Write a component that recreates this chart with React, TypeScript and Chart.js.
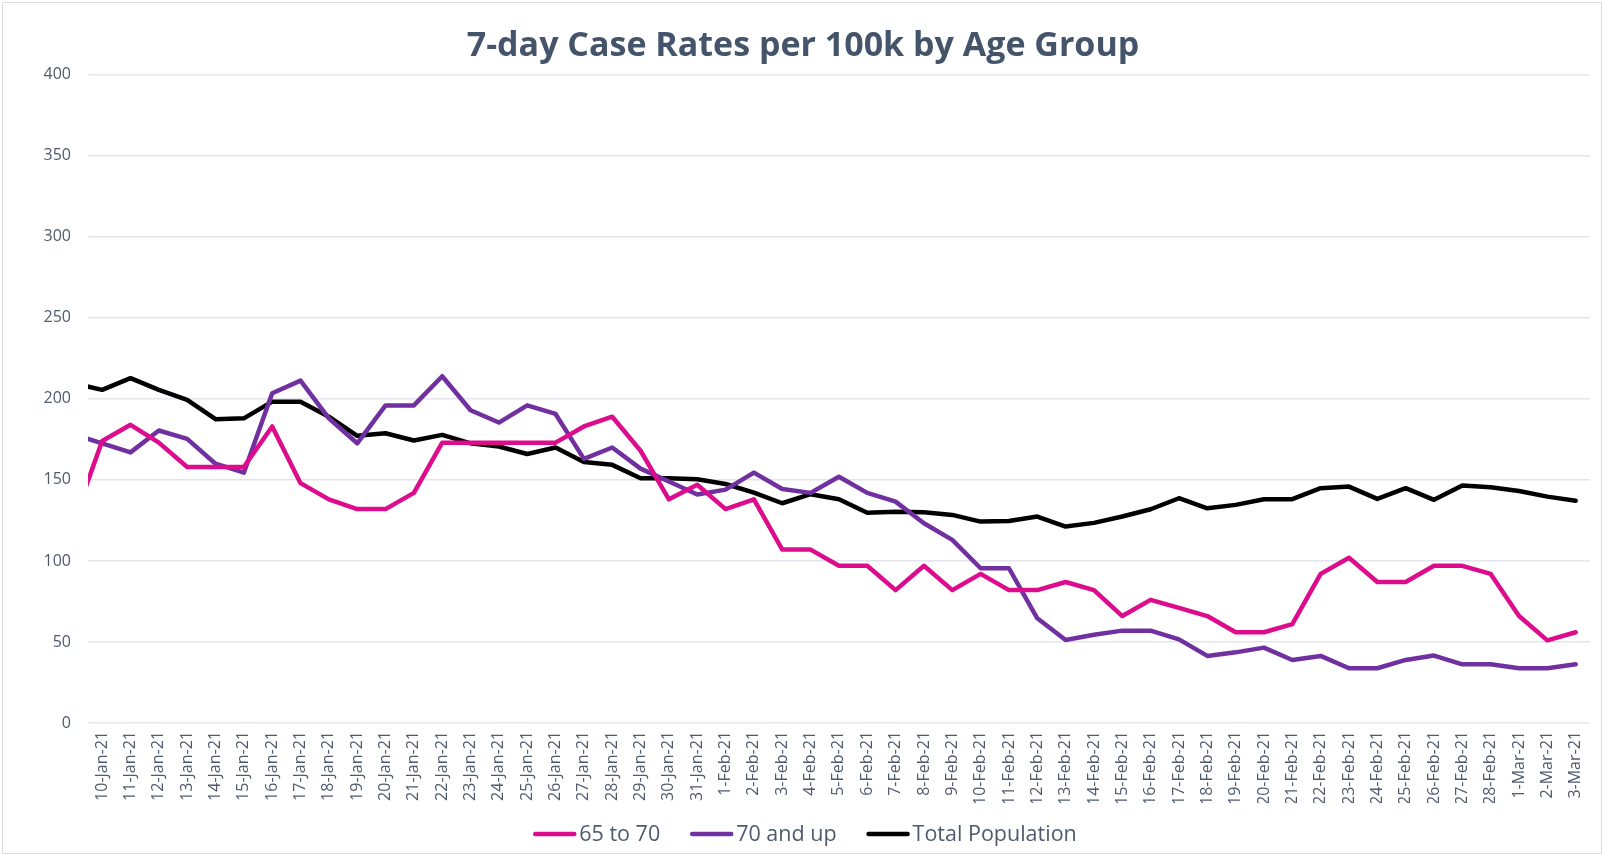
import React, { useEffect, useRef } from 'react';
import { Chart, registerables } from 'chart.js';

Chart.register(...registerables);

const TITLE = '7-day Case Rates per 100k by Age Group';

// first entry (9-Jan-21) lies just outside the visible axis range and is clipped at the plot edge
const dateLabels = [
  '9-Jan-21', '10-Jan-21', '11-Jan-21', '12-Jan-21', '13-Jan-21', '14-Jan-21', '15-Jan-21', '16-Jan-21',
  '17-Jan-21', '18-Jan-21', '19-Jan-21', '20-Jan-21', '21-Jan-21', '22-Jan-21', '23-Jan-21', '24-Jan-21',
  '25-Jan-21', '26-Jan-21', '27-Jan-21', '28-Jan-21', '29-Jan-21', '30-Jan-21', '31-Jan-21',
  '1-Feb-21', '2-Feb-21', '3-Feb-21', '4-Feb-21', '5-Feb-21', '6-Feb-21', '7-Feb-21', '8-Feb-21',
  '9-Feb-21', '10-Feb-21', '11-Feb-21', '12-Feb-21', '13-Feb-21', '14-Feb-21', '15-Feb-21', '16-Feb-21',
  '17-Feb-21', '18-Feb-21', '19-Feb-21', '20-Feb-21', '21-Feb-21', '22-Feb-21', '23-Feb-21', '24-Feb-21',
  '25-Feb-21', '26-Feb-21', '27-Feb-21', '28-Feb-21', '1-Mar-21', '2-Mar-21', '3-Mar-21',
];

const firstShownLabel = '10-Jan-21';

const age65to70 = [
  125, 174, 184, 173, 158, 158, 158, 183, 148, 138, 132, 132, 142, 173, 173, 173,
  173, 173, 183, 189, 168, 138, 147,
  132, 138, 107, 107, 97, 97, 82, 97,
  82, 92, 82, 82, 87, 82, 66, 76,
  71, 66, 56, 56, 61, 92, 102, 87,
  87, 97, 97, 92, 66, 51, 56,
];

const age70up = [
  178, 172.6, 167, 180.5, 175.3, 160, 154.5, 203.5, 211.3, 188, 172.6, 196, 196, 214, 193, 185.4,
  196, 190.7, 163, 170, 157, 149, 141,
  144, 154.5, 144.4, 142, 152, 142, 136.6, 123.3,
  113, 95.5, 95.5, 64.6, 51.2, 54.5, 57, 57,
  51.6, 41.4, 43.6, 46.5, 38.9, 41.4, 33.8, 33.8,
  38.9, 41.6, 36.2, 36.2, 33.8, 33.8, 36.2,
];

const totalPopulation = [
  209.6, 205.6, 212.8, 205.6, 199.4, 187.5, 188, 198.3, 198.3, 189, 177.2, 178.8, 174.3, 177.8, 172.6, 170.6,
  166, 170, 161, 159.3, 151, 151, 150.4,
  147.5, 142.2, 135.6, 141.2, 138.1, 129.8, 130.4, 130,
  128.4, 124.3, 124.7, 127.4, 121.2, 123.5, 127.4, 131.9,
  138.7, 132.5, 134.6, 138.1, 138.1, 144.9, 145.9, 138.3,
  144.9, 137.7, 146.5, 145.5, 143.2, 139.7, 137.2,
];

const seriesNames = ['65 to 70', '70 and up', 'Total Population'];
const seriesColors = ['#DC0C8C', '#7030A0', '#000000'];

const yMin = 0;
const yMax = 400;
const yStep = 50;

const W = 1603;
const H = 855;
const TEXT_COLOR = '#4f5a6c';
const FONT = '"Open Sans", "Noto Sans", sans-serif';

const customLegend = {
  id: 'customLegend',
  afterDraw(chart: any) {
    const ctx = chart.ctx;
    ctx.save();
    ctx.font = `21.5px ${FONT}`;
    const items = chart.data.datasets.map((ds: any) => ({
      label: ds.label,
      color: ds.borderColor,
      w: ctx.measureText(ds.label).width,
    }));
    const swatch = 43;
    const gap = 3;
    const spacing = 30;
    const total =
      items.reduce((s: number, it: any) => s + swatch + gap + it.w, 0) + spacing * (items.length - 1);
    let x = 805 - total / 2;
    const y = 834;
    ctx.textBaseline = 'middle';
    ctx.textAlign = 'left';
    for (const it of items) {
      ctx.beginPath();
      ctx.strokeStyle = it.color;
      ctx.lineWidth = 4.5;
      ctx.lineCap = 'round';
      ctx.moveTo(x + 2, y);
      ctx.lineTo(x + swatch - 2, y);
      ctx.stroke();
      ctx.fillStyle = TEXT_COLOR;
      ctx.fillText(it.label, x + swatch + gap, y + 1);
      x += swatch + gap + it.w + spacing;
    }
    ctx.restore();
  },
};

export default function App() {
  const canvasRef = useRef<HTMLCanvasElement | null>(null);

  useEffect(() => {
    const canvas = canvasRef.current;
    if (!canvas) return;
    Chart.defaults.font.family = FONT;
    const values = [age65to70, age70up, totalPopulation];
    const chart = new Chart(canvas, {
      type: 'line',
      data: {
        labels: dateLabels,
        datasets: values.map((v, i) => ({
          label: seriesNames[i],
          data: v,
          borderColor: seriesColors[i],
          backgroundColor: seriesColors[i],
          borderWidth: 4.5,
          pointRadius: 0,
          pointHoverRadius: 0,
          tension: 0,
          fill: false,
          borderCapStyle: 'round',
          borderJoinStyle: 'round',
          clip: { left: 0, right: 10, top: 10, bottom: 10 },
        })),
      },
      options: {
        animation: false,
        responsive: false,
        maintainAspectRatio: false,
        layout: { padding: { left: 15, right: 12, top: 0, bottom: 52 } },
        plugins: {
          legend: { display: false },
          tooltip: { enabled: false },
          title: {
            display: true,
            text: TITLE,
            color: '#44546A',
            font: { size: 34, weight: 'bold', family: FONT, lineHeight: 1.2 },
            padding: { top: 26, bottom: 8 },
          },
        },
        scales: {
          x: {
            type: 'category',
            min: firstShownLabel,
            offset: true,
            grid: { display: false, drawTicks: false },
            border: { display: false },
            ticks: {
              autoSkip: false,
              minRotation: 90,
              maxRotation: 90,
              padding: 8,
              color: TEXT_COLOR,
              font: { size: 16, family: FONT },
            },
            afterFit: (scale: any) => {
              scale.height = 80;
            },
          },
          y: {
            min: yMin,
            max: yMax,
            ticks: {
              stepSize: yStep,
              padding: 17,
              color: TEXT_COLOR,
              font: { size: 16, family: FONT },
            },
            grid: { color: '#e3e4ec', lineWidth: 1.5, drawTicks: false },
            border: { display: false },
            afterFit: (scale: any) => {
              scale.width = 73;
            },
          },
        },
      },
      plugins: [customLegend],
    } as any);
    return () => chart.destroy();
  }, []);

  return (
    <div style={{ position: 'absolute', left: 0, top: 0, width: W, height: H, background: '#fff' }}>
      <canvas ref={canvasRef} width={W} height={H} style={{ display: 'block', width: W, height: H }} />
      <div
        style={{
          position: 'absolute',
          left: 2,
          top: 2,
          width: W - 5,
          height: H - 5,
          border: '1px solid #dcdce4',
          pointerEvents: 'none',
        }}
      />
    </div>
  );
}
